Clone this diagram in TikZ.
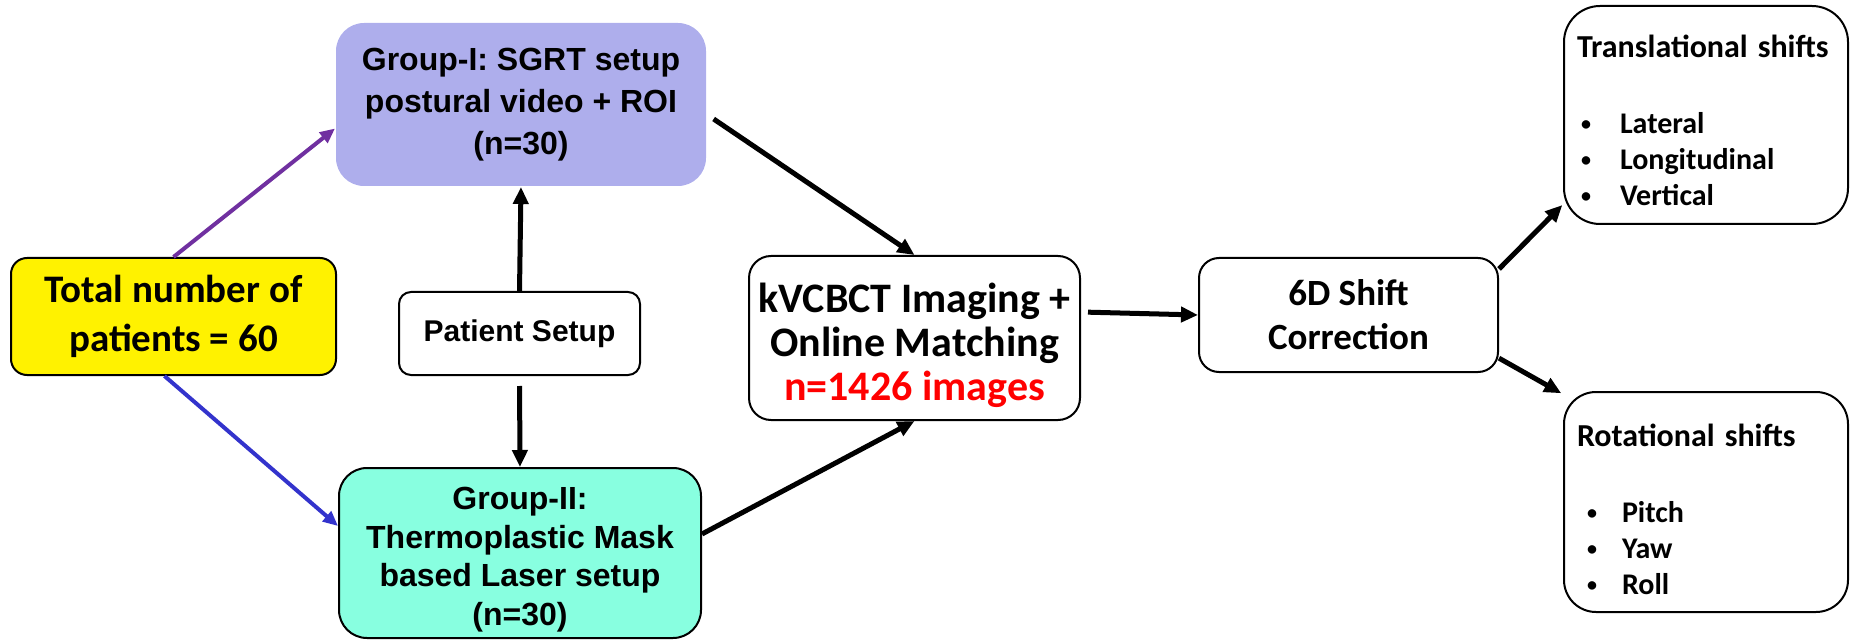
\documentclass[tikz,border=0pt]{standalone}
\usepackage{fontspec}
\newfontfamily\calibrifont{Carlito}
\newfontfamily\arialfont{Liberation Sans}
\usetikzlibrary{arrows.meta,positioning}

\definecolor{groupone}{RGB}{174,174,236}
\definecolor{grouptwo}{RGB}{136,255,224}
\definecolor{arrowpurple}{RGB}{112,48,160}
\definecolor{arrowblue}{RGB}{51,51,204}

\newcommand{\shiftitem}[2]{\hspace*{#1}\makebox[0pt][l]{\raisebox{3pt}{\fontsize{20}{20}\selectfont•}}\hspace*{#2}}

\begin{document}
\begin{tikzpicture}[x=1pt,y=-1pt,
    box/.style={draw, line width=2pt, align=center, inner sep=0pt},
    calbox/.style={box, font=\calibrifont\bfseries\fontsize{37}{46}\selectfont},
    arbox/.style={box, font=\arialfont\bfseries\fontsize{32}{42}\selectfont},
    shiftbox/.style={box, align=left, text width=258pt,
        font=\calibrifont\bfseries\fontsize{30}{36}\selectfont},
    flow/.style={-{Triangle[length=17pt,width=15pt]}, line width=5pt},
    feed/.style={-{Triangle[length=15pt,width=13pt]}, line width=4pt}]
    \useasboundingbox (0,0) rectangle (1850,644);

    \node[calbox, fill=yellow, rounded corners=16pt, minimum width=325pt, minimum height=117pt,
          font=\calibrifont\bfseries\fontsize{39}{49}\selectfont]
          (total) at (173.5,316.5) {Total number of\\patients = 60};
    \node[arbox, draw=none, fill=groupone, rounded corners=28pt, minimum width=370pt, minimum height=163pt]
          (g1) at (521,104.5) {Group-I: SGRT setup\\postural video + ROI\\(n=30)};
    \node[arbox, rounded corners=12pt, minimum width=241pt, minimum height=83pt,
          font=\arialfont\bfseries\fontsize{30}{36}\selectfont]
          (ps) at (519.5,333.5) {Patient Setup};
    \node[arbox, fill=grouptwo, rounded corners=28pt, minimum width=362pt, minimum height=170pt,
          font=\arialfont\bfseries\fontsize{32}{38.5}\selectfont]
          (g2) at (520,553) {\rule{0pt}{36pt}Group-II:\\Thermoplastic Mask\\based Laser setup\\(n=30)};
    \node[calbox, rounded corners=22pt, minimum width=331pt, minimum height=164pt,
          font=\calibrifont\bfseries\fontsize{42}{44}\selectfont]
          (kv) at (914.5,338) {\rule{0pt}{44pt}kVCBCT Imaging +\\Online Matching\\{\color{red}n=1426 images}};
    \node[calbox, rounded corners=20pt, minimum width=299pt, minimum height=114pt,
          font=\calibrifont\bfseries\fontsize{37}{44}\selectfont]
          (sd) at (1348.5,315) {6D Shift\\Correction};
    \node[shiftbox, rounded corners=36pt, minimum width=284pt, minimum height=218pt]
          (tr) at (1706,115) {\rule{0pt}{34pt}{\fontsize{32}{36}\selectfont Translational shifts}\\[40pt]
          \shiftitem{4pt}{39pt}Lateral\\
          \shiftitem{4pt}{39pt}Longitudinal\\
          \shiftitem{4pt}{39pt}Vertical};
    \node[shiftbox, rounded corners=32pt, minimum width=284pt, minimum height=220pt]
          (rt) at (1706,502) {\rule{0pt}{38pt}{\fontsize{32}{36}\selectfont Rotational shifts}\\[40pt]
          \shiftitem{10pt}{35pt}Pitch\\
          \shiftitem{10pt}{35pt}Yaw\\
          \shiftitem{10pt}{35pt}Roll};

    % colored arrows out of the total
    \draw[feed, arrowpurple] (total.north) -- ([yshift=-24pt]g1.west);
    \draw[feed, arrowblue] ([xshift=-9pt]total.south) -- ([yshift=27pt]g2.west);

    \path[flow]
        (ps.north)              edge                   (g1.south)
        (ps.south)              edge[shorten <=10pt]   (g2.north)
        ([yshift=-10pt]g1.east) edge[shorten <=8pt]    (kv.north)
        ([yshift=19pt]g2.east)  edge                   (kv.south)
        ([yshift=26pt]kv.east)  edge[shorten <=7pt]    (sd.west)
        (sd.17)                 edge[shorten >=1pt]    (tr.212)
        (sd.344)                edge[shorten >=2pt]    (rt.143);
\end{tikzpicture}
\end{document}
